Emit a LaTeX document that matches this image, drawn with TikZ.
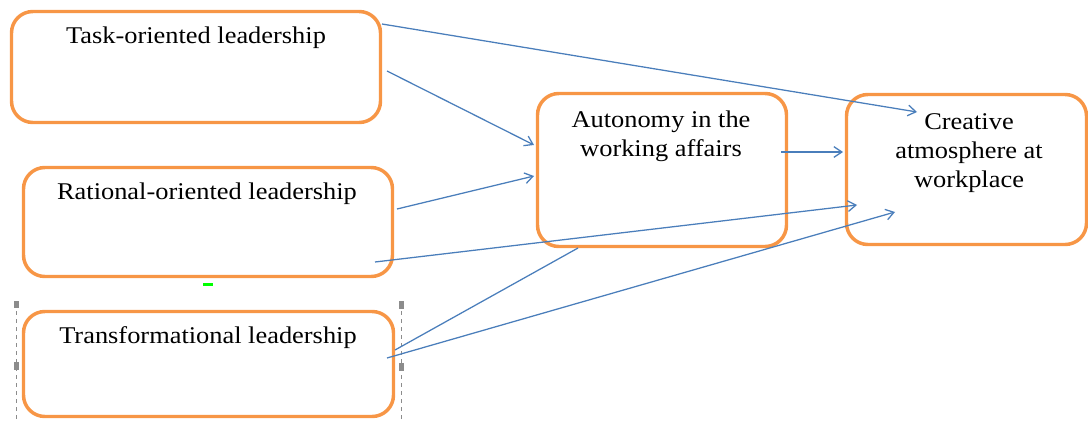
\documentclass[tikz,border=0pt]{standalone}
\usepackage{fontspec}
\setmainfont[FakeStretch=1.1]{Liberation Serif}
\usetikzlibrary{arrows.meta}
\definecolor{boxorange}{HTML}{F79646}
\definecolor{linkblue}{HTML}{4A7EBB}
\definecolor{handlegray}{HTML}{8C8C8C}
\tikzset{
  box/.style={draw=boxorange, line width=2.6pt, rounded corners=16pt, inner sep=0pt, fill=white},
  lbl/.style={font=\fontsize{18}{21.7}\selectfont, inner sep=0pt, align=center, anchor=base},
  link/.style={draw=linkblue, line width=0.95pt, -{Straight Barb[length=6pt,width=8pt,line width=0.95pt]}},
  plainlink/.style={draw=linkblue, line width=0.95pt},
}
\begin{document}
\begin{tikzpicture}[x=0.75pt,y=-0.75pt]
\useasboundingbox (0,0) rectangle (1088,421);
% selection frame around the bottom box
\draw[handlegray, dashed, line width=0.6pt] (16,303) -- (16,421);
\draw[handlegray, dashed, line width=0.6pt] (401,303) -- (401,421);
\fill[handlegray] (13.5,301) rectangle (18.5,308);
\fill[handlegray] (13.5,362) rectangle (18.5,370);
\fill[handlegray] (398.5,301) rectangle (403.5,309);
\fill[handlegray] (398.5,363) rectangle (403.5,371);
\fill[green] (203,283) rectangle (213,286);
% boxes
\node[box, minimum width={369*0.75pt}, minimum height={111*0.75pt}] (task) at (196,67) {};
\node[box, minimum width={369*0.75pt}, minimum height={109*0.75pt}] (rational) at (208,222) {};
\node[box, minimum width={370*0.75pt}, minimum height={105*0.75pt}] (transf) at (208.5,364) {};
\node[box, minimum width={249*0.75pt}, minimum height={153*0.75pt}] (auto) at (662,170) {};
\node[box, minimum width={240*0.75pt}, minimum height={150*0.75pt}] (creat) at (966.5,169.5) {};
% labels
\node[lbl] (tasklbl) at (196,43) {Task-oriented leadership};
\node[lbl] (ratlbl) at (207,199) {Rational-oriented leadership};
\node[lbl] (translbl) at (208,343) {Transformational leadership};
\node[lbl] (autolbl) at (661,156) {Autonomy in the\\working affairs};
\node[lbl] (creatlbl) at (969,187) {Creative\\atmosphere at\\workplace};
% connector end points
\coordinate (t1) at (382,24);
\coordinate (t2) at (387,71);
\coordinate (r1) at (397,209);
\coordinate (r2) at (375,262);
\coordinate (f1) at (395,350);
\coordinate (f2) at (387,358);
\coordinate (a1) at (534,145);
\coordinate (a2) at (534,176);
\coordinate (a3) at (578,248);
\coordinate (a4) at (781,152);
\coordinate (c1) at (917,112);
\coordinate (c2) at (843,152);
\coordinate (c3) at (857,205);
\coordinate (c4) at (895,212);
% connectors
\draw[link] (t1) -- (c1);
\draw[link] (t2) -- (a1);
\draw[link] (r1) -- (a2);
\draw[link] (r2) -- (c3);
\draw[link] (a4) -- (c2);
\draw[plainlink] (a3) -- (f1);
\draw[link] (f2) -- (c4);
\end{tikzpicture}
\end{document}
